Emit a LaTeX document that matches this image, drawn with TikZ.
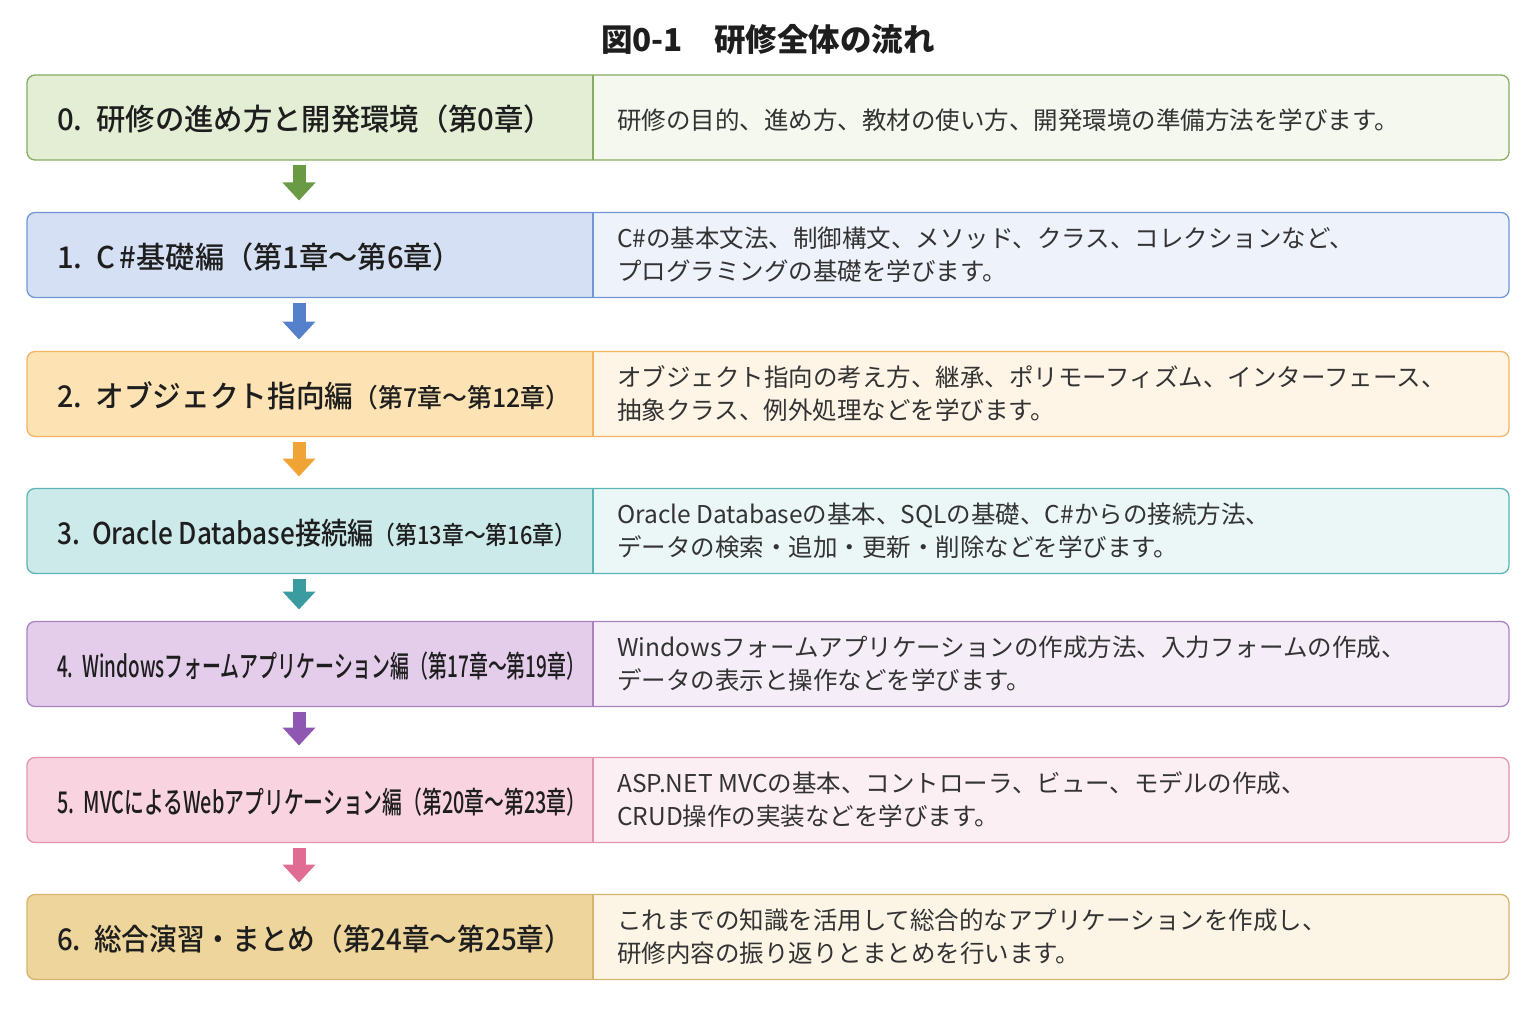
\documentclass[tikz,border=0pt]{standalone}
\usepackage{fontspec}
\setmainfont{Noto Sans CJK JP}
\newfontfamily\partfont{Noto Sans CJK JP Medium}
\usepackage{graphicx}
\usetikzlibrary{calc, arrows.meta}

\definecolor{ink}{HTML}{1E1E1E}
\definecolor{descink}{HTML}{333333}
\definecolor{rowL0}{HTML}{E3EED5}\definecolor{rowR0}{HTML}{F4F8EE}\definecolor{rowB0}{HTML}{86AD62}\definecolor{arrow0}{HTML}{6B9A45}
\definecolor{rowL1}{HTML}{D5E0F4}\definecolor{rowR1}{HTML}{EEF2FB}\definecolor{rowB1}{HTML}{7097D4}\definecolor{arrow1}{HTML}{5580CC}
\definecolor{rowL2}{HTML}{FDE3B3}\definecolor{rowR2}{HTML}{FEF5E7}\definecolor{rowB2}{HTML}{F2B463}\definecolor{arrow2}{HTML}{F0A436}
\definecolor{rowL3}{HTML}{CDEAEA}\definecolor{rowR3}{HTML}{EBF7F7}\definecolor{rowB3}{HTML}{5DB4B7}\definecolor{arrow3}{HTML}{3A9BA0}
\definecolor{rowL4}{HTML}{E3CDEB}\definecolor{rowR4}{HTML}{F5EEF8}\definecolor{rowB4}{HTML}{A982C2}\definecolor{arrow4}{HTML}{8F56B2}
\definecolor{rowL5}{HTML}{F9D4E0}\definecolor{rowR5}{HTML}{FCEFF4}\definecolor{rowB5}{HTML}{E394AE}\definecolor{arrow5}{HTML}{E06C94}
\definecolor{rowL6}{HTML}{EED59B}\definecolor{rowR6}{HTML}{FCF5E6}\definecolor{rowB6}{HTML}{D6B46D}

\begin{document}
\begin{tikzpicture}[x=1pt, y=-1pt]
    \tikzstyle{rowbox} = [rectangle, minimum width=1482pt, minimum height=85pt,
        inner sep=0pt, outer sep=0pt]
    \tikzstyle{partname} = [anchor=west, inner sep=0pt, text=ink,
        font=\partfont\fontsize{30}{36}\selectfont]
    \tikzstyle{summary} = [anchor=west, inner sep=0pt, align=left, text=descink,
        font=\fontsize{24.5}{33}\selectfont]
    \tikzstyle{flow} = [line width=13pt, -{Triangle[width=32pt, length=18pt]}]

    \useasboundingbox (0, 0) rectangle (1536, 1024);
    \fill[white] (0, 0) rectangle (1536, 1024);

    % Title
    \node (title) at (768, 40) [text=ink, font=\bfseries\fontsize{31.5}{36}\selectfont] {図0-1　研修全体の流れ};

    % Rows ----------------------------------------------
    \foreach \n/\y in {0/117.5, 1/255, 2/394, 3/531, 4/664, 5/800, 6/937} {
        \node (row\n) at (768, \y) [rowbox] {};
        \fill[rowR\n, rounded corners=8pt] (row\n.north west) rectangle (row\n.south east);
        \begin{scope}
            \clip[rounded corners=8pt] (row\n.north west) rectangle (row\n.south east);
            \fill[rowL\n] (row\n.north west) rectangle ($(row\n.south west) + (566, 0)$);
        \end{scope}
        \draw[rowB\n, line width=1.3pt] ($(row\n.north west) + (566, 0)$) -- ($(row\n.south west) + (566, 0)$);
        \draw[rowB\n, line width=1.3pt, rounded corners=8pt] (row\n.north west) rectangle (row\n.south east);
    }
    % ---------------------------------------------------

    % Part names
    \node (part0) at ($(row0.west) + (30, 2)$) [partname] {\resizebox{496pt}{\height}{0.\hspace{14pt}研修の進め方と開発環境（第0章）}};
    \node (part1) at ($(row1.west) + (30, 2)$) [partname] {\resizebox{405pt}{\height}{1.\hspace{14pt}C\,\#基礎編（第1章〜第6章）}};
    \node (part2) at ($(row2.west) + (30, 2)$) [partname] {\resizebox{513pt}{\height}{2.\hspace{14pt}オブジェクト指向編{\fontsize{26}{30}\selectfont（第7章〜第12章）}}};
    \node (part3) at ($(row3.west) + (30, 2)$) [partname] {\resizebox{519pt}{\height}{3.\hspace{14pt}Oracle Database接続編{\fontsize{25}{30}\selectfont（第13章〜第16章）}}};
    \node (part4) at ($(row4.west) + (30, 2)$) [partname] {\resizebox{528pt}{\height}{4.\hspace{14pt}Windowsフォームアプリケーション編（第17章〜第19章）}};
    \node (part5) at ($(row5.west) + (30, 2)$) [partname] {\resizebox{529pt}{\height}{5.\hspace{14pt}MVCによるWebアプリケーション編（第20章〜第23章）}};
    \node (part6) at ($(row6.west) + (30, 2)$) [partname] {\resizebox{515pt}{\height}{6.\hspace{14pt}総合演習・まとめ（第24章〜第25章）}};

    % Summaries
    \node (desc0) at ($(row0.west) + (590, 3)$) [summary] {研修の目的、進め方、教材の使い方、開発環境の準備方法を学びます。};
    \node (desc1) at ($(row1.west) + (590, 0)$) [summary] {C\#の基本文法、制御構文、メソッド、クラス、コレクションなど、\\プログラミングの基礎を学びます。};
    \node (desc2) at ($(row2.west) + (590, 0)$) [summary] {オブジェクト指向の考え方、継承、ポリモーフィズム、インターフェース、\\抽象クラス、例外処理などを学びます。};
    \node (desc3) at ($(row3.west) + (590, 0)$) [summary] {Oracle Databaseの基本、SQLの基礎、C\#からの接続方法、\\データの検索・追加・更新・削除などを学びます。};
    \node (desc4) at ($(row4.west) + (590, 0)$) [summary] {Windowsフォームアプリケーションの作成方法、入力フォームの作成、\\データの表示と操作などを学びます。};
    \node (desc5) at ($(row5.west) + (590, 0)$) [summary] {ASP.NET MVCの基本、コントローラ、ビュー、モデルの作成、\\CRUD操作の実装などを学びます。};
    \node (desc6) at ($(row6.west) + (590, 0)$) [summary] {これまでの知識を活用して総合的なアプリケーションを作成し、\\研修内容の振り返りとまとめを行います。};

    % Flow arrows
    \draw[flow, arrow0] ($(row0.south west) + (272, 5)$) -- ($(row1.north west) + (272, -12)$);
    \draw[flow, arrow1] ($(row1.south west) + (272, 5)$) -- ($(row2.north west) + (272, -12)$);
    \draw[flow, arrow2] ($(row2.south west) + (272, 5)$) -- ($(row3.north west) + (272, -12)$);
    \draw[flow, arrow3] ($(row3.south west) + (272, 5)$) -- ($(row4.north west) + (272, -12)$);
    \draw[flow, arrow4] ($(row4.south west) + (272, 5)$) -- ($(row5.north west) + (272, -12)$);
    \draw[flow, arrow5] ($(row5.south west) + (272, 5)$) -- ($(row6.north west) + (272, -12)$);
\end{tikzpicture}
\end{document}
